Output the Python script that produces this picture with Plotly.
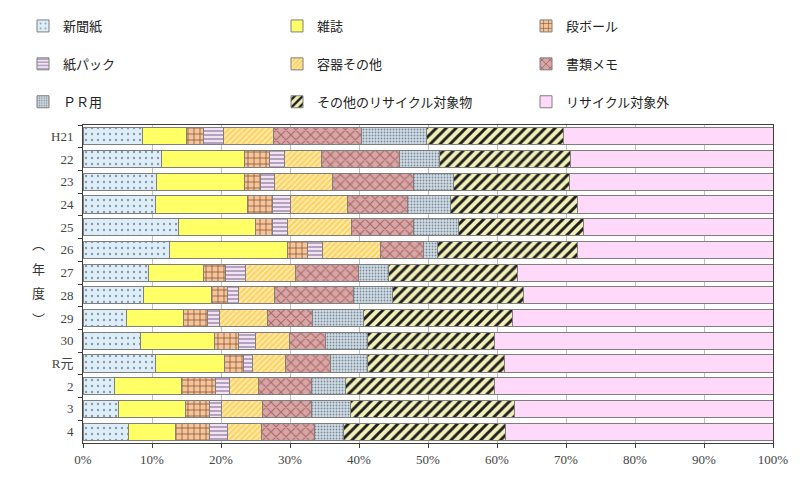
import plotly.graph_objects as go

years = ["H21", "22", "23", "24", "25", "26", "27", "28", "29", "30", "R元", "2", "3", "4"]

shinbun  = [8.6, 11.4, 10.6, 10.5, 13.9, 12.5, 9.5, 8.7, 6.3, 8.3, 10.5, 4.6, 5.2, 6.6]
zasshi   = [6.4, 12.0, 12.8, 13.3, 11.1, 17.1, 8.0, 9.9, 8.3, 10.7, 10.0, 9.7, 9.6, 6.8]
danbo    = [2.4, 3.7, 2.3, 3.6, 2.5, 3.0, 3.1, 2.3, 3.5, 3.6, 2.7, 4.9, 3.5, 4.9]
kamipack = [3.0, 2.1, 2.1, 2.6, 2.2, 2.1, 2.9, 1.7, 1.7, 2.4, 1.3, 2.1, 1.7, 2.7]
youki    = [7.2, 5.4, 8.3, 8.3, 9.2, 8.4, 7.3, 5.1, 6.9, 4.9, 4.8, 4.1, 6.0, 4.9]
shorui   = [12.8, 11.2, 11.8, 8.7, 9.0, 6.2, 9.1, 11.5, 6.5, 5.3, 6.6, 7.7, 7.1, 7.6]
pr       = [9.4, 5.9, 5.8, 6.3, 6.5, 2.1, 4.4, 5.6, 7.5, 6.0, 5.3, 5.0, 5.7, 4.2]
sonota   = [19.8, 19.0, 16.8, 18.4, 18.1, 20.3, 18.7, 19.1, 21.6, 18.4, 19.9, 21.6, 23.7, 23.5]
taishogai = [30.4, 29.3, 29.5, 28.3, 27.5, 28.3, 37.0, 36.1, 37.7, 40.4, 38.9, 40.3, 37.5, 38.8]

names = ["新聞紙", "雑誌", "段ボール", "紙パック", "容器その他", "書類メモ",
         "ＰＲ用", "その他のリサイクル対象物", "リサイクル対象外"]
series = [shinbun, zasshi, danbo, kamipack, youki, shorui, pr, sonota, taishogai]

styles = [
    dict(bg="#DDEEF8", shape=".", fg="#8899AA", size=6, sol=0.12),
    dict(bg="#FFFF66", shape="", fg="#FFFF66", size=6, sol=0.3),
    dict(bg="#F6C49A", shape="+", fg="#7A4A2A", size=6, sol=0.22),
    dict(bg="#F2E2F2", shape="-", fg="#9A88A8", size=4, sol=0.35),
    dict(bg="#FFD466", shape="/", fg="#FFF4C8", size=4, sol=0.3),
    dict(bg="#D9A6A6", shape="x", fg="#A86868", size=7, sol=0.3),
    dict(bg="#D3DEE6", shape=".", fg="#7A8A99", size=3, sol=0.3),
    dict(bg="#F2F0B8", shape="/", fg="#1E1E1E", size=7, sol=0.42),
    dict(bg="#FFD9FA", shape="", fg="#FFD9FA", size=6, sol=0.3),
]

# legend columns: col1 = 新聞紙/紙パック/ＰＲ用, col2 = 雑誌/容器その他/その他..., col3 = 段ボール/書類メモ/対象外
legend_of = ["legend", "legend2", "legend3"] * 3

fig = go.Figure()
for i, (name, vals, st, lg) in enumerate(zip(names, series, styles, legend_of)):
    fig.add_trace(go.Bar(
        y=years, x=vals, name=name, orientation="h",
        marker=dict(
            color=st["bg"],
            line=dict(color="#7F7F7F", width=1),
            pattern=dict(shape=st["shape"], fgcolor=st["fg"], bgcolor=st["bg"],
                         size=st["size"], solidity=st["sol"], fillmode="replace"),
        ),
        legend=lg, legendgroup="g%d" % i,
        hoverinfo="skip",
    ))

legend_common = dict(
    orientation="v", xref="container", yref="container",
    xanchor="left", yanchor="top", y=1 - 3 / 487,
    tracegroupgap=18,
    font=dict(family="Noto Sans CJK JP", size=13, color="#222222"),
    bgcolor="rgba(0,0,0,0)", traceorder="grouped",
)

ypx = [243, 268, 292, 318]
chars = ["︵", "年", "度", "︶"]
annotations = [dict(
    text=c, xref="paper", yref="paper",
    x=-0.065, y=(443 - yp) / 318, xanchor="center", yanchor="middle", showarrow=False,
    font=dict(family="Noto Sans CJK JP", size=13, color="#333333"),
) for c, yp in zip(chars, ypx)]

fig.update_layout(
    width=800, height=487,
    margin=dict(l=75, r=35, t=117, b=52, autoexpand=False),
    barmode="stack", bargap=0.25,
    paper_bgcolor="#FFFFFF", plot_bgcolor="#FFFFFF",
    legend=dict(legend_common, x=15 / 800),
    legend2=dict(legend_common, x=269 / 800),
    legend3=dict(legend_common, x=518 / 800),
    xaxis=dict(
        range=[0, 100], dtick=10, ticksuffix="%",
        showgrid=True, gridcolor="#BFBFBF", gridwidth=1,
        showline=True, linecolor="#404040", linewidth=1, mirror=True,
        ticks="outside", ticklen=4, tickcolor="#404040",
        tickfont=dict(family="Liberation Serif", size=13, color="#444444"),
        zeroline=False, fixedrange=True,
    ),
    yaxis=dict(
        autorange="reversed", type="category",
        showline=True, linecolor="#404040", linewidth=1, mirror=True,
        ticks="outside", ticklen=4, tickcolor="#404040", tickson="boundaries",
        ticklabelstandoff=6,
        tickfont=dict(family="Liberation Serif, Noto Sans CJK JP", size=13, color="#444444"),
        showgrid=False, fixedrange=True,
    ),
    annotations=annotations,
)

fig.write_html("out.html")
